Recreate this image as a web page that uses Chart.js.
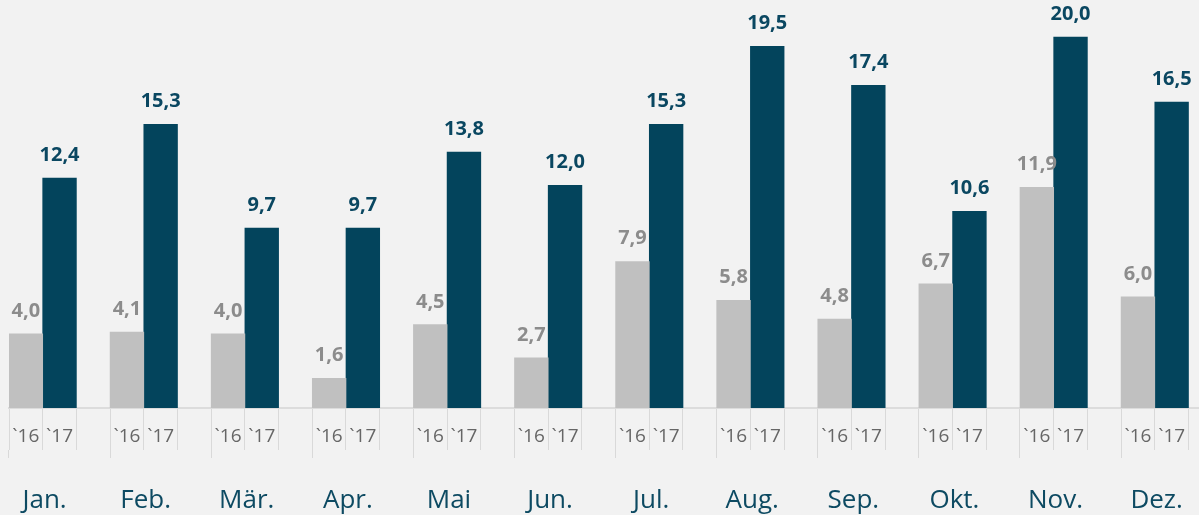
<!DOCTYPE html>
<html>
<head>
<meta charset="utf-8">
<script src="https://cdn.jsdelivr.net/npm/chart.js@4/dist/chart.umd.min.js"></script>
<style>
  html, body { margin: 0; padding: 0; background: #f2f2f2; overflow: hidden; }
  #wrap { width: 1225px; height: 515px; position: relative; }
</style>
</head>
<body>
<div id="wrap"><canvas id="c"></canvas></div>
<script>
const months = ['Jan.','Feb.','Mär.','Apr.','Mai','Jun.','Jul.','Aug.','Sep.','Okt.','Nov.','Dez.'];
const yearLabels = ['`16', '`17'];
const values2016 = [4.0, 4.1, 4.0, 1.6, 4.5, 2.7, 7.9, 5.8, 4.8, 6.7, 11.9, 6.0];
const values2017 = [12.4, 15.3, 9.7, 9.7, 13.8, 12.0, 15.3, 19.5, 17.4, 10.6, 20.0, 16.5];

const slotLabels = [];
const data16 = [];
const data17 = [];
months.forEach((m, i) => {
  slotLabels.push(yearLabels[0], yearLabels[1], '');
  data16.push(values2016[i], null, null);
  data17.push(null, values2017[i], null);
});

const fmt = v => v.toFixed(1).replace('.', ',');

const valueLabels = {
  id: 'valueLabels',
  afterDatasetsDraw(chart) {
    const ctx = chart.ctx;
    ctx.save();
    ctx.textAlign = 'center';
    ctx.textBaseline = 'alphabetic';
    ctx.font = 'bold 20px "Open Sans"';
    chart.data.datasets.forEach((ds, di) => {
      const meta = chart.getDatasetMeta(di);
      ctx.fillStyle = ds.labelColor;
      meta.data.forEach((bar, idx) => {
        const v = ds.data[idx];
        if (v === null || v === undefined) return;
        ctx.fillText(fmt(v), bar.x, bar.y - 17);
      });
    });
    ctx.restore();
  }
};

new Chart(document.getElementById('c'), {
  type: 'bar',
  data: {
    labels: slotLabels,
    datasets: [
      { label: '2016', data: data16, backgroundColor: '#c0c0c0', labelColor: '#8c8c8c',
        barPercentage: 1, categoryPercentage: 1, xAxisID: 'x', yAxisID: 'y' },
      { label: '2017', data: data17, backgroundColor: '#03445c', labelColor: '#0a4761',
        barPercentage: 1, categoryPercentage: 1, xAxisID: 'x', yAxisID: 'y' }
    ]
  },
  options: {
    responsive: true,
    maintainAspectRatio: false,
    animation: false,
    layout: { padding: { left: 9, right: 0, top: 0, bottom: 0 } },
    plugins: { legend: { display: false }, tooltip: { enabled: false } },
    scales: {
      y: { display: false, min: 0, max: 22 },
      x: {
        type: 'category',
        position: 'bottom',
        weight: 0,
        stacked: true,
        offset: true,
        afterFit: (s) => { s.height = 42; },
        grid: { offset: true, drawOnChartArea: false, drawTicks: true, tickLength: 42, color: '#d9d9d9', lineWidth: 1 },
        border: { display: true, color: '#dcdcdc', width: 2 },
        ticks: { autoSkip: false, maxRotation: 0, minRotation: 0, padding: -25,
                 color: '#666666', font: { family: '"Open Sans"', size: 19 } }
      },
      x2: {
        type: 'category',
        position: 'bottom',
        weight: 1,
        labels: months,
        offset: true,
        afterFit: (s) => { s.height = 65; },
        grid: { offset: true, drawOnChartArea: false, drawTicks: true, tickLength: 8, color: '#d9d9d9', lineWidth: 1 },
        border: { display: false },
        ticks: { autoSkip: false, maxRotation: 0, minRotation: 0, padding: 27, labelOffset: -15,
                 color: '#0d4a62', font: { family: '"Open Sans"', size: 26 } }
      }
    }
  },
  plugins: [valueLabels]
});
</script>
</body>
</html>
